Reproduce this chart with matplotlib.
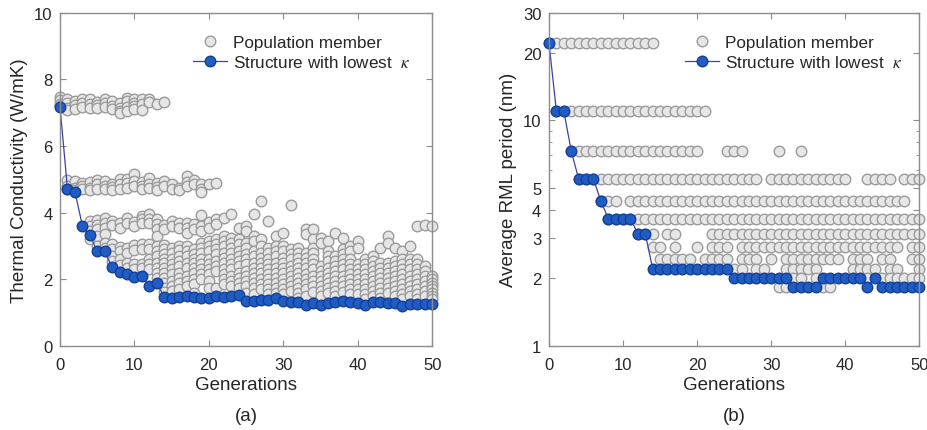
import matplotlib
matplotlib.use("Agg")
import matplotlib.pyplot as plt
from matplotlib.ticker import FixedLocator, NullFormatter

plt.rcParams['font.family'] = ['Liberation Sans', 'DejaVu Sans']
plt.rcParams['mathtext.fontset'] = 'stix'

# ---- panel (a): thermal conductivity per generation ----
generations = list(range(51))

kappa_best = [7.17, 4.71, 4.63, 3.61, 3.33, 2.84, 2.84, 2.36, 2.21, 2.16,
              2.08, 2.09, 1.81, 1.89, 1.48, 1.43, 1.48, 1.51, 1.48, 1.44,
              1.43, 1.51, 1.48, 1.51, 1.53, 1.34, 1.34, 1.39, 1.39, 1.43,
              1.36, 1.33, 1.33, 1.23, 1.28, 1.23, 1.28, 1.33, 1.36, 1.33,
              1.29, 1.23, 1.33, 1.33, 1.29, 1.28, 1.19, 1.26, 1.26, 1.26, 1.26]

# population members, one list per generation
kappa_pop = [
    [7.48, 7.38, 7.25, 7.2],
    [7.4, 7.3, 7.15, 7.08, 4.98, 4.8, 4.72],
    [7.35, 7.22, 7.12, 4.95, 4.75, 4.68],
    [7.42, 7.3, 7.18, 4.9, 4.8, 4.7],
    [7.4, 7.25, 7.15, 4.92, 4.75, 4.68, 3.75, 3.6, 3.45, 3.2],
    [7.32, 7.22, 7.15, 4.98, 4.85, 4.72, 3.78, 3.62, 3.5, 3.3, 3.0],
    [7.4, 7.28, 7.18, 4.95, 4.8, 4.7, 3.85, 3.7, 3.55, 3.35, 3.1, 2.95],
    [7.36, 7.2, 7.12, 4.85, 4.78, 4.68, 3.75, 3.62, 3.05, 2.9, 2.7, 2.55],
    [7.3, 7.15, 7.05, 6.98, 5.0, 4.85, 4.72, 3.68, 3.55, 2.98, 2.85, 2.6, 2.42],
    [7.45, 7.35, 7.18, 7.05, 5.02, 4.9, 4.75, 3.85, 3.7, 2.95, 2.8, 2.5, 2.35],
    [7.42, 7.3, 7.2, 7.12, 5.15, 4.95, 4.8, 3.72, 3.6, 3.02, 2.88, 2.45, 2.3],
    [7.4, 7.25, 7.08, 4.92, 4.8, 4.7, 3.9, 3.8, 3.7, 3.05, 2.9, 2.45, 2.35],
    [7.42, 7.32, 5.05, 4.85, 4.75, 3.95, 3.82, 3.7, 3.05, 2.92, 2.6, 2.45, 2.3],
    [7.25, 4.88, 4.78, 4.68, 3.8, 3.65, 3.5, 3.3, 3.0, 2.85, 2.7, 2.5, 2.35, 2.2, 2.05],
    [7.32, 4.95, 4.8, 3.62, 3.5, 3.02, 2.9, 2.75, 2.6, 2.5, 2.35, 2.2, 2.05, 1.9, 1.75, 1.62],
    [4.85, 4.7, 3.75, 3.6, 2.95, 2.8, 2.6, 2.45, 2.3, 2.15, 1.95, 1.8, 1.65],
    [4.75, 4.68, 3.7, 3.55, 3.0, 2.88, 2.7, 2.55, 2.4, 2.2, 2.05, 1.9, 1.72],
    [5.1, 4.92, 4.8, 3.7, 3.55, 3.4, 3.0, 2.85, 2.7, 2.5, 2.35, 2.1, 1.95, 1.8],
    [4.98, 4.85, 3.65, 3.5, 2.9, 2.75, 2.62, 2.5, 2.35, 2.2, 2.0, 1.85, 1.6],
    [4.85, 4.72, 4.62, 3.92, 3.6, 3.45, 3.1, 2.95, 2.8, 2.6, 2.45, 2.3, 2.15, 2.0],
    [4.85, 3.72, 3.55, 3.15, 3.0, 2.85, 2.6, 2.45, 2.3, 2.15, 1.95, 1.75],
    [4.88, 3.8, 3.65, 3.2, 3.05, 2.9, 2.75, 2.55, 2.4, 2.25, 1.75],
    [3.85, 3.3, 3.15, 3.0, 2.8, 2.65, 2.5, 2.3, 2.15, 2.0, 1.85],
    [3.95, 3.25, 3.1, 2.95, 2.8, 2.6, 2.45, 2.3, 2.1, 1.95, 1.8],
    [3.55, 3.2, 3.05, 2.85, 2.7, 2.55, 2.4, 2.2, 2.05, 1.9, 1.75],
    [3.6, 3.45, 3.1, 2.95, 2.75, 2.6, 2.45, 2.25, 2.1, 1.95, 1.8, 1.6],
    [3.95, 3.3, 3.15, 2.85, 2.7, 2.5, 2.35, 2.2, 2.05, 1.9, 1.75, 1.55],
    [4.35, 3.2, 3.0, 2.8, 2.65, 2.5, 2.35, 2.2, 2.0, 1.85, 1.7],
    [3.75, 2.95, 2.8, 2.6, 2.45, 2.3, 2.15, 2.0, 1.85, 1.7, 1.55],
    [3.3, 3.0, 2.85, 2.7, 2.5, 2.35, 2.2, 2.05, 1.9, 1.75, 1.6],
    [3.38, 3.0, 2.85, 2.65, 2.5, 2.35, 2.2, 2.0, 1.85, 1.7, 1.55],
    [4.22, 2.9, 2.75, 2.6, 2.4, 2.25, 2.1, 1.95, 1.8, 1.65],
    [2.95, 2.8, 2.65, 2.5, 2.35, 2.2, 2.05, 1.9, 1.75, 1.6, 1.45],
    [3.5, 3.35, 2.8, 2.65, 2.5, 2.35, 2.15, 2.0, 1.85, 1.7, 1.5],
    [3.5, 3.2, 2.95, 2.8, 2.6, 2.45, 2.3, 2.1, 1.95, 1.8, 1.62],
    [3.25, 3.1, 2.4, 2.25, 2.1, 1.95, 1.8, 1.65, 1.5],
    [3.15, 2.85, 2.7, 2.55, 2.35, 2.2, 2.05, 1.9, 1.75, 1.6],
    [3.4, 2.7, 2.55, 2.4, 2.25, 2.1, 1.95, 1.8, 1.65, 1.5],
    [3.25, 2.9, 2.75, 2.6, 2.45, 2.3, 2.1, 1.95, 1.8, 1.62],
    [3.0, 2.85, 2.6, 2.45, 2.3, 2.15, 2.0, 1.85, 1.7, 1.55],
    [3.15, 2.95, 2.45, 2.3, 2.15, 2.0, 1.85, 1.7, 1.55],
    [2.6, 2.45, 2.3, 2.15, 2.0, 1.85, 1.7, 1.55, 1.42],
    [2.7, 2.55, 2.4, 2.25, 2.1, 1.95, 1.8, 1.65, 1.5],
    [2.95, 2.5, 2.35, 2.2, 2.05, 1.9, 1.75, 1.6, 1.45],
    [3.3, 3.1, 2.5, 2.35, 2.2, 2.05, 1.9, 1.75, 1.6],
    [2.95, 2.55, 2.4, 2.25, 2.1, 1.95, 1.8, 1.65, 1.5],
    [2.85, 2.6, 2.45, 2.3, 2.15, 2.0, 1.85, 1.7, 1.55, 1.4],
    [3.0, 2.6, 2.45, 2.3, 2.1, 1.95, 1.8, 1.65, 1.5],
    [3.6, 2.6, 2.45, 2.3, 2.15, 2.0, 1.85, 1.7, 1.55, 1.42],
    [3.62, 2.4, 2.25, 2.1, 1.95, 1.8, 1.65, 1.5],
    [3.6, 2.1, 2.0, 1.9, 1.8, 1.7, 1.6, 1.5, 1.4],
]

# ---- panel (b): average RML period ----
rml_best = [22, 11, 11, 7.33, 5.5, 5.5, 5.5, 4.4, 3.67, 3.67,
            3.67, 3.67, 3.14, 3.14, 2.2, 2.2, 2.2, 2.2, 2.2, 2.2,
            2.2, 2.2, 2.2, 2.2, 2.2, 2.0, 2.0, 2.0, 2.0, 2.0,
            2.0, 2.0, 2.0, 1.83, 1.83, 1.83, 1.83, 2.0, 2.0, 2.0,
            2.0, 2.0, 2.0, 1.83, 2.0, 1.83, 1.83, 1.83, 1.83, 1.83, 1.83]

# discrete period levels and the generations in which members sit on them
rml_levels = [22, 11, 7.33, 5.5, 4.4, 3.67, 3.14, 2.75, 2.44, 2.2, 2.0, 1.83]
rml_level_gens = [
    [*range(0, 15)],
    [*range(1, 22)],
    [*range(3, 21), 24, 25, 26, 31, 34],
    [*range(4, 29), *range(30, 41), 43, 44, 45, 46, 48, 49, 50],
    [7, 8, 9, *range(11, 49)],
    [*range(8, 51)],
    [12, 13, 14, 16, 17, *range(22, 51)],
    [14, 15, 17, 20, 22, 23, 24, *range(26, 48), 49, 50],
    [15, 16, 17, 18, 19, 21, 22, 23, 24, 26, 27, 28, 30, *range(32, 40),
     41, 42, 43, 45, 46, 49, 50],
    [25, 26, 28, 29, 32, 33, 34, 35, 36, 41, 42, 43, 44, 46, 47, 50],
    [33, 34, 36, 43, 45, 46, 47, 48, 49, 50],
    [31, 32, 37, 38],
]

gray_face = '#e6e6e6'
gray_edge = '#9b9b9b'
blue_face = '#1f5cc4'
blue_edge = '#143f95'
line_col = '#3b43a3'
txt_col = '#262626'
spine_col = '#8c8c8c'

fig = plt.figure(figsize=(9.28, 4.31), dpi=100)
ax1 = fig.add_axes([0.0647, 0.195, 0.401, 0.773])
ax2 = fig.add_axes([0.5916, 0.195, 0.399, 0.773])

# population scatter (a)
px, py = [], []
for g, vals in zip(generations, kappa_pop):
    for v in vals:
        px.append(g)
        py.append(v)
ax1.plot(px, py, 'o', ls='none', ms=7.6, mfc=gray_face, mec=gray_edge, mew=1.0,
         clip_on=False, label='Population member')
ax1.plot(generations, kappa_best, '-o', color=line_col, lw=0.9, ms=7.6,
         mfc=blue_face, mec=blue_edge, mew=1.0, clip_on=False,
         label='Structure with lowest  $\\kappa$')

# population scatter (b)
qx, qy = [], []
for lev, gens in zip(rml_levels, rml_level_gens):
    for g in gens:
        qx.append(g)
        qy.append(lev)
ax2.plot(qx, qy, 'o', ls='none', ms=7.6, mfc=gray_face, mec=gray_edge, mew=1.0,
         clip_on=False, label='Population member')
ax2.plot(generations, rml_best, '-o', color=line_col, lw=0.9, ms=7.6,
         mfc=blue_face, mec=blue_edge, mew=1.0, clip_on=False,
         label='Structure with lowest  $\\kappa$')

ax1.set_xlim(0, 50)
ax1.set_ylim(0, 10)
ax1.set_yticks([0, 2, 4, 6, 8, 10])
ax1.set_ylabel('Thermal Conductivity (W/mK)', fontsize=13.5, color=txt_col, labelpad=4)

ax2.set_xlim(0, 50)
ax2.set_yscale('log')
ax2.set_ylim(1, 30)
ax2.yaxis.set_major_locator(FixedLocator([1, 2, 3, 4, 5, 10, 20, 30]))
ax2.yaxis.set_minor_locator(FixedLocator([6, 7, 8, 9]))
ax2.yaxis.set_minor_formatter(NullFormatter())
ax2.set_yticklabels(['1', '2', '3', '4', '5', '10', '20', '30'])
ax2.set_ylabel('Average RML period (nm)', fontsize=13.5, color=txt_col, labelpad=4)

for ax, tag, lx in ((ax1, '(a)', 0.357), (ax2, '(b)', 0.368)):
    ax.set_xticks([0, 10, 20, 30, 40, 50])
    ax.set_xlabel('Generations', fontsize=13.5, color=txt_col, labelpad=3)
    ax.tick_params(which='both', direction='in', top=True, right=True,
                   labelsize=12, colors=spine_col, labelcolor=txt_col)
    ax.tick_params(which='major', length=4.5)
    ax.tick_params(which='minor', length=2.5)
    ax.tick_params(axis='x', pad=8)
    ax.tick_params(axis='y', pad=5.5)
    for s in ax.spines.values():
        s.set_color(spine_col)
        s.set_linewidth(1.0)
    ax.text(0.5, -0.21, tag, transform=ax.transAxes, ha='center', va='center',
            fontsize=13.5, color=txt_col)
    leg = ax.legend(loc='upper left', bbox_to_anchor=(lx, 0.933), frameon=False,
                    fontsize=12.3, handlelength=2.0, handletextpad=0.35,
                    labelspacing=0.25, borderpad=0, borderaxespad=0)
    for t in leg.get_texts():
        t.set_color(txt_col)

fig.savefig('out.png', dpi=100)
